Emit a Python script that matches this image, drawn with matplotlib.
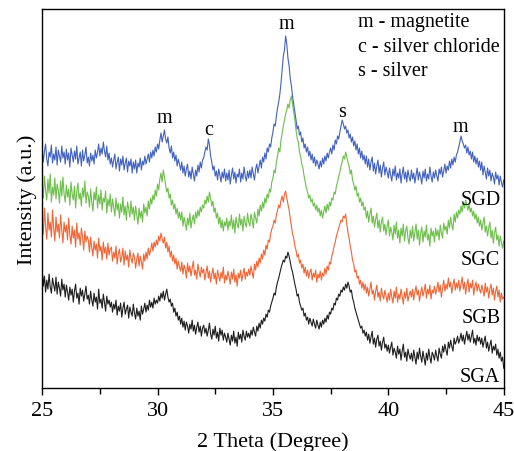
import numpy as np
import matplotlib
matplotlib.use("Agg")
import matplotlib.pyplot as plt

plt.rcParams["font.family"] = ["Liberation Serif", "DejaVu Serif"]

# 2 theta, 25 to 45 in 0.05 degree steps (one row = one degree)
two_theta = np.arange(500, 901) / 20.0

# intensities (a.u.), curves already offset
sgd = [
    240, 226, 237, 244, 229, 222, 236, 231, 243, 225, 234, 228, 241, 223, 238, 232, 226, 242, 230, 236,
    224, 239, 228, 235, 221, 240, 233, 226, 237, 229, 242, 224, 230, 236, 222, 238, 227, 233, 241, 225,
    231, 222, 235, 227, 233, 224, 238, 230, 236, 244, 232, 240, 234, 246, 237, 231, 242, 228, 235, 224,
    230, 221, 228, 234, 219, 226, 231, 217, 229, 223, 232, 218, 225, 230, 216, 227, 222, 229, 215, 226,
    219, 228, 215, 225, 221, 230, 218, 227, 223, 232, 224, 229, 234, 226, 236, 230, 238, 232, 241, 236,
    244, 239, 248, 255, 246, 252, 258, 249, 245, 251, 240, 235, 242, 230, 236, 227, 233, 222, 229, 224,
    218, 226, 215, 222, 212, 219, 224, 211, 217, 209, 221, 214, 207, 218, 212, 223, 216, 226, 220, 228,
    230, 236, 241, 238, 249, 243, 232, 226, 218, 222, 212, 217, 208, 219, 213, 206, 216, 210, 219, 207,
    215, 208, 218, 204, 213, 220, 209, 216, 205, 214, 211, 219, 206, 215, 209, 221, 212, 207, 217, 210,
    218, 210, 221, 214, 208, 219, 224, 215, 222, 228, 220, 231, 226, 235, 229, 240, 236, 244, 241, 250,
    256, 264, 262, 272, 280, 286, 294, 305, 318, 332, 338, 352, 344, 330, 322, 310, 302, 292, 284, 276,
    268, 259, 262, 253, 256, 246, 250, 240, 244, 236, 241, 232, 237, 228, 234, 225, 231, 222, 228, 224,
    219, 227, 221, 230, 224, 232, 227, 235, 230, 236, 240, 234, 243, 238, 248, 244, 252, 249, 256, 262,
    268, 264, 259, 262, 255, 258, 250, 254, 246, 251, 242, 247, 238, 244, 234, 240, 230, 237, 228, 233,
    224, 232, 221, 229, 218, 226, 231, 217, 225, 214, 222, 228, 215, 223, 211, 220, 226, 213, 221, 216,
    210, 220, 213, 207, 219, 212, 222, 208, 215, 210, 219, 205, 214, 221, 209, 216, 206, 218, 211, 207,
    218, 209, 215, 205, 213, 220, 208, 216, 211, 204, 217, 210, 219, 207, 214, 209, 221, 212, 206, 216,
    210, 218, 212, 207, 219, 214, 221, 211, 217, 224, 215, 222, 218, 227, 220, 229, 223, 231, 226, 233,
    236, 241, 246, 252, 247, 244, 240, 243, 235, 241, 233, 237, 229, 236, 226, 232, 224, 230, 221, 227,
    218, 226, 213, 222, 216, 209, 220, 212, 218, 207, 215, 211, 204, 216, 209, 213, 203, 212, 206, 201,
    208,
]
sgc = [
    206, 190, 212, 197, 188, 209, 195, 214, 186, 201, 193, 210, 189, 204, 198, 185, 207, 192, 211, 194,
    186, 203, 191, 199, 183, 206, 194, 188, 202, 180, 197, 205, 189, 195, 182, 200, 191, 207, 185, 196,
    192, 181, 199, 186, 177, 196, 188, 201, 180, 193, 184, 198, 178, 190, 186, 197, 175, 189, 182, 194,
    176, 189, 181, 172, 190, 178, 185, 170, 184, 176, 191, 173, 182, 168, 186, 179, 171, 187, 174, 181,
    168, 182, 173, 164, 180, 170, 177, 166, 184, 175, 181, 172, 187, 179, 190, 184, 193, 188, 198, 192,
    204, 198, 209, 215, 206, 218, 211, 203, 196, 200, 190, 194, 183, 188, 179, 184, 174, 180, 170, 176,
    168, 176, 162, 171, 165, 158, 170, 163, 175, 160, 168, 173, 164, 176, 170, 178, 172, 181, 176, 183,
    180, 188, 184, 192, 186, 196, 190, 182, 187, 176, 180, 170, 175, 164, 171, 160, 168, 157, 166, 162,
    170, 158, 167, 162, 173, 159, 168, 155, 171, 164, 160, 174, 163, 169, 157, 172, 165, 161, 175, 166,
    162, 174, 168, 160, 176, 170, 165, 179, 172, 183, 177, 186, 180, 190, 185, 194, 190, 199, 196, 206,
    210, 218, 215, 226, 232, 240, 236, 248, 255, 262, 268, 274, 278, 284, 280, 288, 292, 284, 276, 268,
    258, 250, 246, 236, 232, 224, 220, 212, 206, 200, 196, 190, 193, 186, 189, 182, 185, 178, 183, 176,
    180, 172, 178, 170, 176, 182, 175, 184, 178, 186, 182, 190, 188, 196, 194, 202, 206, 212, 216, 222,
    226, 232, 229, 236, 231, 226, 222, 214, 218, 208, 204, 198, 202, 192, 195, 186, 190, 182, 186, 178,
    181, 170, 177, 166, 174, 180, 165, 172, 161, 169, 175, 160, 168, 156, 166, 171, 157, 164, 153, 162,
    168, 152, 161, 156, 148, 163, 154, 166, 150, 158, 145, 160, 152, 164, 147, 157, 162, 150, 144, 158,
    150, 162, 147, 156, 164, 149, 158, 143, 155, 161, 146, 157, 151, 163, 148, 154, 142, 160, 152, 157,
    146, 160, 152, 158, 148, 163, 155, 150, 165, 158, 162, 154, 168, 160, 171, 163, 158, 174, 166, 176,
    170, 178, 174, 182, 176, 186, 180, 188, 183, 178, 184, 176, 180, 172, 177, 169, 174, 165, 171, 162,
    168, 158, 165, 171, 156, 162, 152, 160, 166, 150, 158, 145, 155, 161, 148, 153, 142, 152, 146, 140,
    147,
]
sgb = [
    170, 154, 180, 161, 149, 175, 158, 166, 151, 178, 160, 147, 171, 156, 164, 150, 173, 158, 145, 166,
    156, 163, 148, 170, 153, 144, 162, 150, 158, 141, 165, 149, 155, 143, 160, 151, 138, 157, 146, 152,
    148, 136, 151, 140, 132, 147, 138, 144, 130, 150, 137, 142, 128, 146, 135, 141, 129, 145, 133, 139,
    141, 127, 136, 130, 142, 124, 134, 139, 126, 131, 140, 123, 137, 128, 133, 121, 138, 130, 125, 135,
    131, 120, 129, 135, 122, 132, 126, 119, 134, 127, 136, 129, 140, 133, 138, 145, 137, 146, 141, 148,
    143, 152, 147, 155, 149, 145, 151, 140, 146, 136, 142, 131, 137, 127, 133, 124, 130, 119, 127, 121,
    117, 126, 114, 123, 119, 110, 125, 116, 122, 112, 120, 127, 113, 118, 109, 124, 117, 111, 121, 115,
    119, 108, 116, 122, 110, 117, 106, 114, 120, 109, 115, 104, 118, 112, 107, 116, 110, 121, 105, 113,
    108, 117, 111, 104, 116, 109, 119, 106, 113, 102, 115, 110, 118, 107, 114, 120, 109, 116, 112, 119,
    113, 122, 116, 110, 124, 118, 127, 121, 130, 125, 134, 129, 138, 133, 143, 139, 148, 146, 154, 159,
    162, 168, 165, 173, 178, 183, 180, 188, 192, 186, 194, 197, 190, 184, 178, 170, 162, 154, 150, 142,
    138, 131, 134, 125, 128, 120, 124, 115, 121, 112, 118, 110, 116, 119, 108, 115, 111, 118, 106, 114,
    110, 117, 108, 115, 112, 120, 114, 122, 118, 126, 124, 132, 136, 142, 146, 152, 156, 160, 164, 168,
    166, 172, 170, 174, 164, 156, 150, 142, 136, 128, 124, 116, 118, 110, 112, 104, 108, 100, 106, 98,
    104, 95, 101, 92, 99, 106, 94, 98, 88, 97, 103, 91, 96, 87, 100, 93, 89, 98, 92, 86,
    95, 88, 99, 91, 85, 97, 90, 101, 86, 94, 89, 99, 92, 84, 96, 90, 100, 87, 93, 97,
    91, 99, 88, 96, 102, 93, 98, 87, 95, 101, 92, 97, 104, 90, 99, 94, 103, 89, 98, 95,
    102, 94, 99, 106, 96, 103, 91, 100, 108, 97, 104, 99, 110, 101, 106, 95, 103, 109, 98, 105,
    100, 108, 97, 104, 111, 99, 106, 94, 103, 109, 96, 105, 100, 108, 93, 102, 106, 97, 104, 99,
    95, 103, 98, 92, 105, 96, 101, 90, 99, 104, 93, 100, 88, 97, 102, 91, 98, 86, 95, 89,
    91,
]
sga = [
    120, 102, 112, 96, 108, 99, 114, 101, 95, 110, 103, 97, 111, 94, 106, 100, 92, 109, 98, 104,
    91, 103, 96, 88, 101, 93, 99, 86, 97, 104, 90, 95, 84, 100, 92, 98, 87, 94, 102, 89,
    93, 84, 97, 88, 82, 95, 86, 91, 79, 99, 85, 89, 80, 94, 86, 77, 92, 84, 88, 81,
    86, 76, 84, 79, 88, 73, 82, 77, 85, 71, 80, 86, 74, 79, 83, 70, 81, 76, 72, 84,
    75, 69, 80, 72, 77, 68, 82, 74, 79, 85, 76, 83, 78, 88, 81, 86, 80, 90, 84, 88,
    85, 92, 87, 95, 90, 97, 88, 94, 99, 91, 86, 89, 82, 85, 76, 80, 72, 76, 68, 72,
    64, 70, 61, 67, 58, 66, 62, 55, 64, 59, 68, 57, 63, 54, 61, 66, 56, 62, 52, 60,
    63, 55, 60, 52, 58, 65, 54, 49, 59, 53, 62, 50, 56, 47, 60, 53, 58, 48, 55, 51,
    46, 55, 49, 43, 53, 47, 57, 45, 51, 42, 56, 49, 54, 46, 58, 52, 48, 57, 51, 55,
    50, 58, 53, 61, 56, 52, 62, 57, 65, 60, 68, 64, 70, 67, 74, 71, 78, 76, 82, 86,
    90, 95, 93, 101, 106, 110, 115, 120, 124, 128, 126, 132, 130, 136, 132, 126, 120, 116, 110, 104,
    99, 92, 94, 86, 82, 78, 80, 72, 75, 68, 71, 64, 70, 66, 62, 69, 64, 60, 68, 63,
    59, 66, 61, 68, 64, 70, 66, 73, 69, 76, 74, 80, 78, 85, 83, 90, 88, 94, 92, 98,
    96, 101, 98, 104, 100, 106, 102, 96, 98, 90, 86, 80, 76, 72, 68, 64, 60, 62, 55, 58,
    52, 56, 48, 54, 45, 51, 57, 44, 50, 41, 49, 53, 42, 47, 38, 46, 51, 40, 44, 37,
    43, 35, 41, 46, 33, 40, 36, 30, 42, 34, 39, 28, 37, 44, 31, 36, 27, 39, 33, 29,
    35, 27, 38, 31, 24, 36, 29, 40, 32, 26, 37, 30, 23, 35, 28, 39, 31, 25, 36, 33,
    28, 38, 32, 27, 40, 34, 30, 42, 36, 44, 38, 33, 46, 40, 48, 42, 37, 50, 44, 47,
    52, 45, 49, 55, 47, 53, 44, 51, 57, 48, 54, 46, 52, 58, 45, 50, 43, 53, 47, 51,
    44, 50, 41, 47, 52, 40, 46, 37, 43, 48, 35, 42, 38, 44, 33, 39, 30, 36, 27, 31,
    20,
]

samples = ["SGA", "SGB", "SGC", "SGD"]
label_y = [12, 71, 129, 189]
peaks = ["m", "c", "m", "s", "m"]
peak_x = [30.3, 32.2, 35.6, 38.0, 43.1]
peak_y = [271, 259, 364, 277, 262]
legend_lines = ["m - magnetite", "c - silver chloride", "s - silver"]

fig = plt.figure(figsize=(5.14, 4.52), dpi=100)
ax = fig.add_axes([0.082, 0.139, 0.898, 0.839])

ax.plot(two_theta, sga, color="#1e1e1e", lw=0.8)
ax.plot(two_theta, sgb, color="#f26434", lw=0.8)
ax.plot(two_theta, sgc, color="#6cbf4a", lw=0.8)
ax.plot(two_theta, sgd, color="#4262bf", lw=0.8)

for name, y in zip(samples, label_y):
    ax.text(44.85, y, name, ha="right", va="center", fontsize=14.5)

for p, x, y in zip(peaks, peak_x, peak_y):
    ax.text(x, y, p, ha="center", va="center", fontsize=14.5)

for i, t in enumerate(legend_lines):
    ax.text(38.68, 366 - 24.5 * i, t, ha="left", va="center", fontsize=14.5)

ax.set_xlim(25, 45)
ax.set_ylim(0, 379)
ax.set_xticks([25, 30, 35, 40, 45])
ax.set_xticks([27.5, 32.5, 37.5, 42.5], minor=True)
ax.set_yticks([])
ax.tick_params(axis="x", direction="out", length=5, width=1, labelsize=16, pad=4)
ax.tick_params(axis="x", which="minor", direction="out", length=4, width=1)
ax.set_xlabel("2 Theta (Degree)", fontsize=16, labelpad=8)
ax.set_ylabel("Intensity (a.u.)", fontsize=16, labelpad=4)
for s in ax.spines.values():
    s.set_linewidth(1.0)

fig.savefig("out.png", dpi=100)
